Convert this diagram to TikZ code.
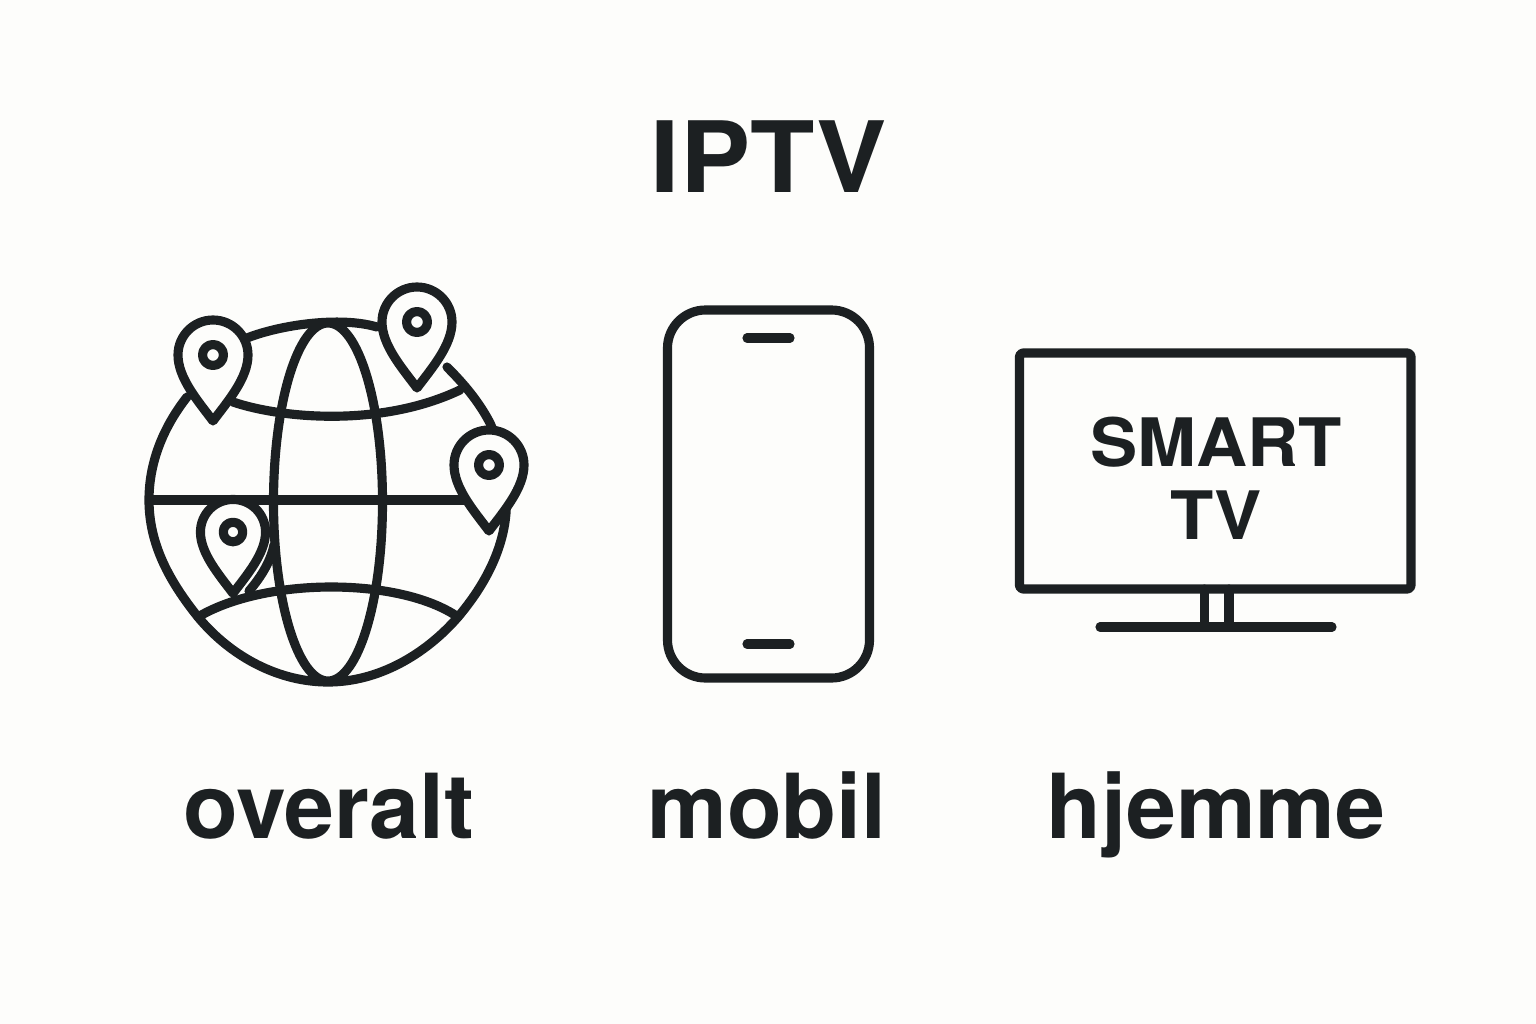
\documentclass[tikz,border=0pt]{standalone}
\usepackage{fontspec}
\setmainfont{TeX Gyre Heros}
\usepackage{tikz}
\definecolor{ink}{HTML}{1C2022}
\definecolor{paper}{HTML}{FDFDFB}
\tikzset{
  icon/.style={draw=ink, line width=2.6pt, line cap=round, line join=round},
  heading/.style={text=ink, font=\bfseries\fontsize{28}{32}\selectfont, anchor=base, inner sep=0pt, xscale=1.07, transform shape},
  caption/.style={text=ink, font=\bfseries\fontsize{25.5}{30}\selectfont, anchor=base, inner sep=0pt},
  screen/.style={text=ink, font=\bfseries\fontsize{19}{23}\selectfont, anchor=base, inner sep=0pt, xscale=1.06, transform shape},
  pics/pin/.style={code={
    \filldraw[icon, fill=paper] (0,66) .. controls (-15,46) and (-35,23) .. (-35,0)
      arc[start angle=180, end angle=360, radius=35]
      .. controls (35,23) and (15,46) .. (0,66) -- cycle;
    \draw[icon] (0,0) circle (10.5);
  }}
}
\begin{document}
\begin{tikzpicture}[x=0.01cm, y=-0.01cm]
  \fill[paper] (0,0) rectangle (1536,1024);
  \useasboundingbox (0,0) rectangle (1536,1024);
  % globe
  \draw[icon] (447,367) .. controls (462,382) and (478,400) .. (490,423)
    .. controls (502,450) and (508,480) .. (506,513)
    .. controls (503,550) and (485,585) .. (458,617)
    .. controls (425,655) and (378,682) .. (328,682)
    .. controls (280,682) and (232,658) .. (198,617)
    .. controls (170,582) and (149,545) .. (149,500)
    .. controls (149,460) and (165,425) .. (187,397);
  \draw[icon] (247,338) .. controls (280,325) and (340,316) .. (377,327);
  \draw[icon] (328,502) ellipse (54.5 and 179);
  \draw[icon] (152,500) -- (489,500);
  \draw[icon] (233,402) .. controls (280,418) and (380,428) .. (460,390);
  \draw[icon] (198,617) .. controls (265,577) and (400,577) .. (458,617);
  \draw[icon] (249,591) .. controls (262,576) and (271,560) .. (274,545);
  \foreach \px/\py/\ps in {213/355/1, 417/322/1, 489/465/1, 233/532/.93}
    \pic[scale=\ps] at (\px,\py) {pin};
  % phone
  \draw[icon, rounded corners=10.8pt] (667.5,310) rectangle (869.5,678);
  \draw[icon] (747,338) -- (790,338);
  \draw[icon] (747,644) -- (790,644);
  % tv
  \draw[icon, rounded corners=1pt] (1019.5,353) rectangle (1411,589);
  \draw[icon] (1204.5,589) -- (1204.5,627);
  \draw[icon] (1229,589) -- (1229,627);
  \draw[icon] (1100,627) -- (1332,627);
  \node[screen] (smart) at (1216,466) {SMART};
  \node[screen] (tv) at (1216,539) {TV};
  % labels
  \node[heading] (iptv) at (769,192) {IPTV};
  \node[caption] (overalt) at (329,838) {overalt};
  \node[caption] (mobil) at (767,838) {mobil};
  \node[caption] (hjemme) at (1216,838) {hjemme};
\end{tikzpicture}
\end{document}
